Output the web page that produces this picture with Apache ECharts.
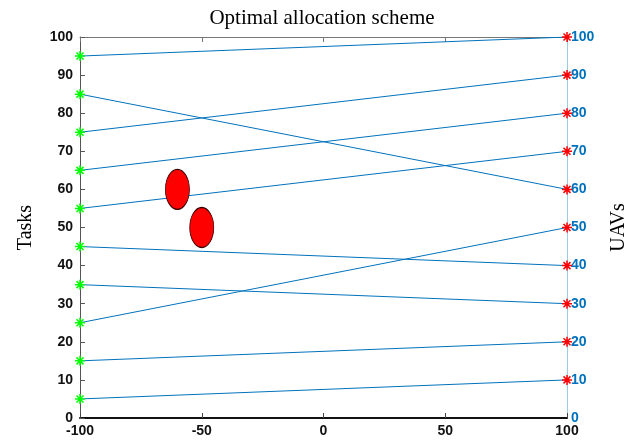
<!DOCTYPE html>
<html><head><meta charset="utf-8">
<script src="https://cdn.jsdelivr.net/npm/echarts@6/dist/echarts.min.js"></script>
<style>html,body{margin:0;padding:0;background:#fff}#c{width:644px;height:446px}</style>
</head><body><div id="c"></div>
<script>
var taskX = -100, uavX = 100;
var taskY = [5, 15, 25, 35, 45, 55, 65, 75, 85, 95];
var assignedUavY = [10, 20, 50, 30, 40, 70, 80, 90, 60, 100];
var uavY = [10, 20, 30, 40, 50, 60, 70, 80, 90, 100];
var obstacles = [[-60, 60], [-50, 50]];
var xTicks = [-100, -50, 0, 50, 100];

var star = 'path://M0,-5L0,5M-5,0L5,0M-3.5,-3.5L3.5,3.5M-3.5,3.5L3.5,-3.5';
var lblFont = {fontFamily: 'Liberation Sans', fontWeight: 'bold', fontSize: 14};

var series = [];
taskY.forEach(function (t, i) {
  series.push({type: 'line', data: [[taskX, t], [uavX, assignedUavY[i]]], symbol: 'none',
    lineStyle: {color: '#0072BD', width: 1}, silent: true, z: 2});
});
series.push({type: 'scatter', data: obstacles, symbol: 'circle', symbolSize: [24, 40],
  itemStyle: {color: '#ff0000', opacity: 1, borderColor: '#3a0000', borderWidth: 1}, z: 3});
series.push({type: 'scatter', data: taskY.map(function (t) { return [taskX, t]; }), symbol: star, symbolSize: 10,
  itemStyle: {color: 'none', opacity: 1, borderColor: '#00ff00', borderWidth: 1.5}, z: 4});
series.push({type: 'scatter', data: uavY.map(function (u) { return [uavX, u]; }), symbol: star, symbolSize: 10,
  itemStyle: {color: 'none', opacity: 1, borderColor: '#ff0000', borderWidth: 1.5}, z: 4});

var chart = echarts.init(document.getElementById('c'));
chart.setOption({
  animation: false,
  title: {text: 'Optimal allocation scheme', left: 'center', top: 3,
    textStyle: {fontFamily: 'Liberation Serif', fontWeight: 'normal', fontSize: 21, color: '#000'}},
  grid: {left: 80, right: 77, top: 37, bottom: 28},
  xAxis: [
    {type: 'value', min: -100, max: 100, interval: 50, position: 'bottom',
      axisLine: {lineStyle: {color: '#111', width: 2}},
      axisTick: {inside: true, length: 5, lineStyle: {color: '#444'}},
      axisLabel: Object.assign({color: '#111', margin: 6}, lblFont),
      splitLine: {show: false}},
    {type: 'value', min: -100, max: 100, interval: 50, position: 'top',
      axisLine: {show: true, onZero: false, lineStyle: {color: '#777', width: 1}},
      axisTick: {inside: true, length: 5, lineStyle: {color: '#777'}},
      axisLabel: {show: false}, splitLine: {show: false}}
  ],
  yAxis: [
    {type: 'value', min: 0, max: 100, interval: 10, position: 'left',
      name: 'Tasks', nameLocation: 'middle', nameGap: 44, nameRotate: 90,
      nameTextStyle: {fontFamily: 'Liberation Serif', fontSize: 20, color: '#000'},
      axisLine: {show: true, onZero: false, lineStyle: {color: '#555', width: 1}},
      axisTick: {show: true, inside: true, length: 5, lineStyle: {color: '#555'}},
      axisLabel: Object.assign({color: '#111', margin: 7}, lblFont),
      splitLine: {show: false}},
    {type: 'value', min: 0, max: 100, interval: 10, position: 'right',
      name: 'UAVs', nameLocation: 'middle', nameGap: 42, nameRotate: 90,
      nameTextStyle: {fontFamily: 'Liberation Serif', fontSize: 20, color: '#000'},
      axisLine: {show: true, onZero: false, lineStyle: {color: '#9ccbe6', width: 1}},
      axisTick: {show: false},
      axisLabel: Object.assign({color: '#0072BD', margin: 4}, lblFont),
      splitLine: {show: false}}
  ],
  series: series
});
</script></body></html>
